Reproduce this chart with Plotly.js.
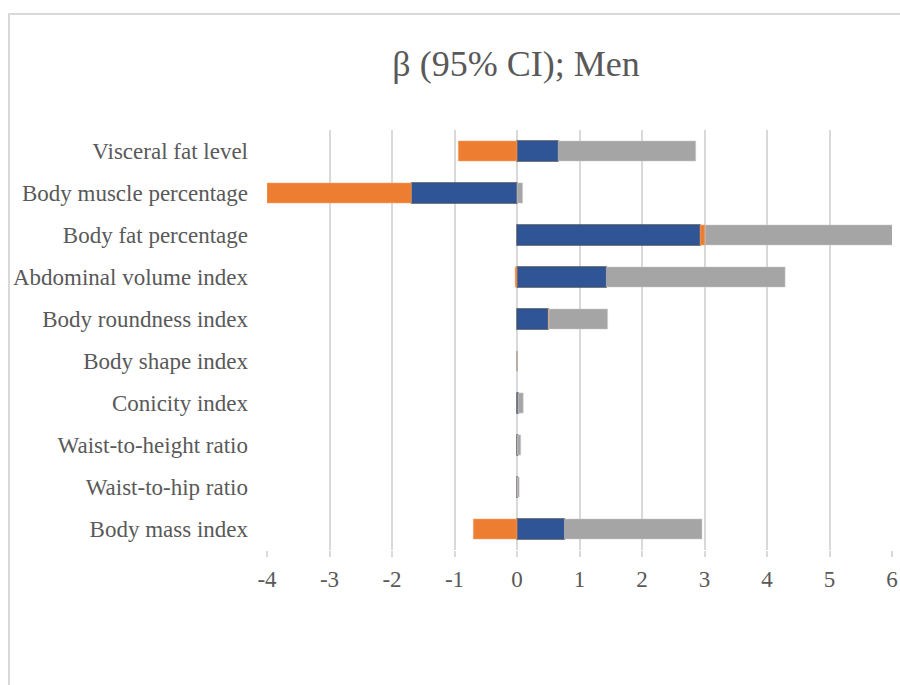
<!DOCTYPE html>
<html>
<head>
<meta charset="utf-8">
<script src="https://cdn.plot.ly/plotly-3.0.1.min.js"></script>
<style>
  html, body { margin: 0; padding: 0; background: #fff; }
  #frame { position: absolute; left: 8px; top: 13px; width: 900px; height: 700px; border: 2px solid #d9d9d9; box-sizing: border-box; }
  #chart { position: absolute; left: 0; top: 0; width: 900px; height: 685px; }
</style>
</head>
<body>
<div id="frame"></div>
<div id="chart"></div>
<script>
// Categories, top to bottom
const categories = [
  "Visceral fat level",
  "Body muscle percentage",
  "Body fat percentage",
  "Abdominal volume index",
  "Body roundness index",
  "Body shape index",
  "Conicity index",
  "Waist-to-height ratio",
  "Waist-to-hip ratio",
  "Body mass index"
];
// Stacked segment values
const beta    = [0.66, -1.69, 2.93, 1.43, 0.50, 0, 0.02, 0.01, 0.005, 0.76];
const lowerCI = [-0.94, -2.31, 0.08, -0.03, 0.01, 0, 0.0, 0.0, 0.0, -0.70];
const upperCI = [2.20, 0.09, 3.20, 2.86, 0.94, 0, 0.08, 0.05, 0.03, 2.20];
const xTicks = [-4, -3, -2, -1, 0, 1, 2, 3, 4, 5, 6];
const titleText = "β (95% CI); Men";

const SERIF = "'Liberation Serif', 'Times New Roman', serif";

const traces = [
  { type: "bar", orientation: "h", y: categories, x: beta, name: "β",
    marker: { color: "#2f5597", line: { color: "#3e4f6c", width: 1.3 } } },
  { type: "bar", orientation: "h", y: categories, x: lowerCI, name: "Lower CI",
    marker: { color: "#ed7d31", line: { color: "#f4b183", width: 0.5 } } },
  { type: "bar", orientation: "h", y: categories, x: upperCI, name: "Upper CI",
    marker: { color: "#a5a5a5", line: { color: "#d0d0d0", width: 0.5 } } }
];

const layout = {
  width: 900, height: 685,
  paper_bgcolor: "rgba(0,0,0,0)", plot_bgcolor: "rgba(0,0,0,0)",
  margin: { l: 267, r: 8, t: 130, b: 135 },
  barmode: "relative", bargap: 0.52,
  showlegend: false,
  font: { family: SERIF, color: "#595959", size: 23 },
  title: { text: titleText, xref: "container", x: 516/900, xanchor: "center",
           yref: "container", y: 1 - 63/685, yanchor: "middle",
           font: { size: 36, color: "#595959", family: SERIF } },
  xaxis: {
    range: [-4, 6], tickvals: xTicks, ticktext: xTicks.map(String),
    showgrid: true, gridcolor: "#d9d9d9", gridwidth: 2,
    zeroline: false, showline: false,
    ticks: "outside", ticklen: 6, tickwidth: 2, tickcolor: "#d9d9d9",
    ticklabelstandoff: 2,
    tickfont: { size: 23, color: "#595959", family: SERIF }, fixedrange: true
  },
  yaxis: {
    type: "category", autorange: "reversed", categoryorder: "array", categoryarray: categories,
    showgrid: false, zeroline: false, showline: false, ticks: "", ticklabelstandoff: 18,
    tickfont: { size: 23, color: "#595959", family: SERIF }, fixedrange: true
  }
};

Plotly.newPlot("chart", traces, layout, { displayModeBar: false, staticPlot: true });
</script>
</body>
</html>
